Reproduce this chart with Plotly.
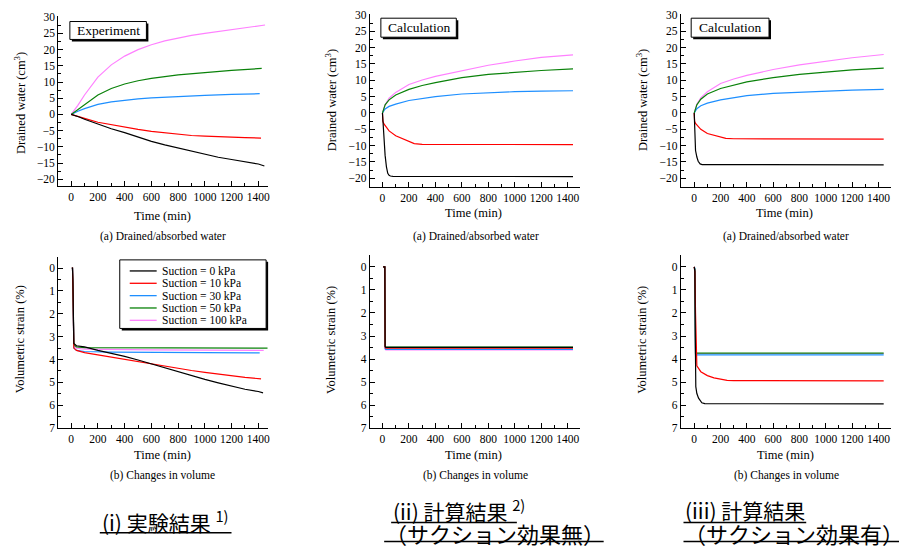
import plotly.graph_objects as go

# ---------------- data ----------------
suction_labels = ["Suction = 0 kPa", "Suction = 10 kPa", "Suction = 30 kPa",
                  "Suction = 50 kPa", "Suction = 100 kPa"]

# (i) Experiment - drained water (cm3)
exp_w_t_0 = [0, 30, 60, 100, 200, 300, 400, 500, 600, 700, 800, 900, 1000, 1100, 1200, 1300, 1400, 1445]
exp_w_v_0 = [0, -0.3, -0.8, -1.5, -3.0, -4.4, -5.6, -7.0, -8.3, -9.4, -10.4, -11.4, -12.4, -13.2, -13.9, -14.6, -15.3, -15.9]
exp_w_t_10 = [0, 30, 60, 100, 200, 300, 400, 500, 600, 700, 800, 900, 1000, 1100, 1200, 1300, 1420]
exp_w_v_10 = [0, -0.3, -0.7, -1.2, -2.4, -3.2, -3.9, -4.6, -5.2, -5.7, -6.1, -6.5, -6.7, -6.9, -7.0, -7.15, -7.3]
exp_w_t_30 = [0, 20, 50, 100, 200, 300, 400, 500, 600, 800, 1000, 1200, 1410]
exp_w_v_30 = [0, 0.5, 1.0, 1.8, 3.1, 3.9, 4.45, 4.8, 5.1, 5.6, 5.9, 6.2, 6.4]
exp_w_t_50 = [0, 20, 50, 100, 200, 300, 400, 500, 600, 800, 1000, 1200, 1425]
exp_w_v_50 = [0, 0.6, 1.5, 3.0, 6.0, 8.0, 9.4, 10.4, 11.1, 12.2, 13.0, 13.6, 14.2]
exp_w_t_100 = [0, 20, 50, 100, 200, 300, 400, 500, 600, 700, 800, 900, 1000, 1100, 1200, 1300, 1400, 1450]
exp_w_v_100 = [0, 1.0, 2.8, 6.0, 11.5, 15.3, 18.0, 20.0, 21.5, 22.7, 23.6, 24.4, 25.0, 25.6, 26.2, 26.8, 27.3, 27.6]

# (ii) Calculation without suction effect - drained water (cm3)
c1_w_t_0 = [0, 5, 10, 20, 30, 40, 50, 60, 80, 1440]
c1_w_v_0 = [0, -4, -8, -13, -16.5, -18.5, -19.1, -19.3, -19.4, -19.5]
c1_w_t_10 = [0, 3, 10, 20, 50, 100, 150, 200, 240, 300, 1440]
c1_w_v_10 = [0, -2.5, -3.3, -3.8, -5.5, -7.0, -7.9, -8.8, -9.4, -9.6, -9.7]
c1_w_t = [0, 10, 20, 50, 100, 200, 300, 400, 600, 800, 1000, 1200, 1440]
c1_w_v_30 = [0, 0.8, 1.2, 2.0, 2.7, 3.8, 4.5, 5.0, 5.8, 6.2, 6.5, 6.7, 6.8]
c1_w_v_50 = [0, 1.5, 2.5, 4.0, 5.5, 7.2, 8.4, 9.3, 10.8, 11.8, 12.5, 13.0, 13.5]
c1_w_v_100 = [0, 1.5, 2.5, 4.5, 6.3, 8.7, 10.1, 11.2, 13.0, 14.6, 15.9, 17.0, 17.8]

# (iii) Calculation with suction effect - drained water (cm3)
c2_w_t_0 = [0, 3, 7, 10, 20, 30, 45, 60, 1440]
c2_w_v_0 = [0, -5, -10.5, -11.5, -13.5, -14.8, -15.6, -15.8, -15.9]
c2_w_t_10 = [0, 3, 10, 20, 50, 100, 150, 200, 240, 300, 1440]
c2_w_v_10 = [0, -2.5, -3.2, -3.6, -5.0, -6.3, -6.9, -7.5, -7.8, -7.9, -8.0]
c2_w_t = [0, 10, 20, 50, 100, 200, 300, 400, 600, 800, 1000, 1200, 1440]
c2_w_v_30 = [0, 0.8, 1.3, 2.2, 3.0, 4.0, 4.7, 5.3, 6.0, 6.4, 6.7, 7.0, 7.2]
c2_w_v_50 = [0, 1.5, 2.5, 4.2, 5.8, 7.5, 8.6, 9.5, 10.8, 11.8, 12.5, 13.2, 13.7]
c2_w_v_100 = [0, 1.6, 2.7, 4.6, 6.5, 9.0, 10.4, 11.5, 13.3, 14.7, 15.8, 16.9, 17.9]

# (i) Experiment - volumetric strain (%)
exp_s_t_0 = [5, 10, 13, 15, 20, 40, 100, 200, 300, 400, 500, 600, 700, 800, 900, 1000, 1100, 1200, 1300, 1400, 1435]
exp_s_v_0 = [0, 0, 0.5, 2.5, 3.3, 3.4, 3.45, 3.6, 3.72, 3.86, 4.02, 4.19, 4.37, 4.55, 4.71, 4.87, 5.02, 5.17, 5.3, 5.4, 5.46]
exp_s_t_10 = [5, 10, 13, 15, 20, 40, 100, 200, 300, 400, 500, 600, 700, 800, 900, 1000, 1100, 1200, 1300, 1420]
exp_s_v_10 = [0, 0, 0.8, 2.8, 3.5, 3.6, 3.7, 3.8, 3.9, 4.0, 4.1, 4.2, 4.3, 4.4, 4.48, 4.56, 4.64, 4.72, 4.78, 4.85]
exp_s_t_30 = [5, 10, 13, 15, 20, 40, 100, 300, 600, 1000, 1410]
exp_s_v_30 = [0, 0, 0.8, 2.8, 3.5, 3.6, 3.65, 3.68, 3.7, 3.7, 3.71]
exp_s_t_50 = [5, 10, 13, 15, 20, 40, 100, 1470]
exp_s_v_50 = [0, 0, 0.7, 2.6, 3.35, 3.45, 3.48, 3.5]
exp_s_t_100 = [5, 10, 13, 15, 20, 40, 100, 600, 1440]
exp_s_v_100 = [0, 0, 0.7, 2.6, 3.4, 3.5, 3.55, 3.58, 3.6]

# (ii) Calculation without suction effect - volumetric strain (%)
c1_s_t = [5, 18, 20, 25, 1440]
c1_s_v_0 = [0, 0, 3.45, 3.49, 3.49]
c1_s_v_10 = [0, 0, 3.5, 3.53, 3.53]
c1_s_v_30 = [0, 0, 3.55, 3.58, 3.58]
c1_s_v_50 = [0, 0, 3.45, 3.48, 3.48]
c1_s_v_100 = [0, 0, 3.57, 3.6, 3.6]

# (iii) Calculation with suction effect - volumetric strain (%)
c2_s_t_0 = [0, 5, 8, 12, 20, 33, 58, 80, 1440]
c2_s_v_0 = [0, 0.2, 3.0, 5.2, 5.5, 5.7, 5.9, 5.94, 5.95]
c2_s_t_10 = [0, 5, 10, 15, 20, 50, 100, 150, 200, 250, 300, 1440]
c2_s_v_10 = [0, 0.2, 2.0, 4.0, 4.3, 4.55, 4.72, 4.82, 4.88, 4.93, 4.94, 4.95]
c2_s_t = [0, 5, 8, 10, 1440]
c2_s_v_30 = [0, 0.05, 2.5, 3.82, 3.82]
c2_s_v_50 = [0, 0.1, 2.5, 3.74, 3.74]
c2_s_v_100 = [0, 0.1, 2.5, 3.76, 3.76]

x_ticks = [0, 200, 400, 600, 800, 1000, 1200, 1400]
w_ticks = [-20, -15, -10, -5, 0, 5, 10, 15, 20, 25, 30]
s_ticks = [0, 1, 2, 3, 4, 5, 6, 7]

# ---------------- styling ----------------
COLORS = ["#000000", "#ff0000", "#1e8fff", "#0a820a", "#ff80ff"]
SERIF = "Liberation Serif"
CJK = "Noto Sans CJK JP"
# page body has an 8px margin; layout coordinates below are in page pixels
OFF = 8
W, H = 907 - OFF, 549 - OFF


def fx(p):
    return (p - OFF) / W


def fy(p):
    return 1 - (p - OFF) / H


panels = [
    dict(xd=(58.3, 268.3), yd=(11.3, 185), xr=(-97, 1470), yr=(-22.2, 30.3), kind="w",
         data=[(exp_w_t_0, exp_w_v_0), (exp_w_t_10, exp_w_v_10), (exp_w_t_30, exp_w_v_30),
               (exp_w_t_50, exp_w_v_50), (exp_w_t_100, exp_w_v_100)]),
    dict(xd=(370.7, 581.7), yd=(9, 185.7), xr=(-95, 1496), yr=(-22.7, 30.3), kind="w",
         data=[(c1_w_t_0, c1_w_v_0), (c1_w_t_10, c1_w_v_10), (c1_w_t, c1_w_v_30),
               (c1_w_t, c1_w_v_50), (c1_w_t, c1_w_v_100)]),
    dict(xd=(682.3, 893.3), yd=(9, 185.7), xr=(-102, 1498), yr=(-22.7, 30.3), kind="w",
         data=[(c2_w_t_0, c2_w_v_0), (c2_w_t_10, c2_w_v_10), (c2_w_t, c2_w_v_30),
               (c2_w_t, c2_w_v_50), (c2_w_t, c2_w_v_100)]),
    dict(xd=(58.3, 268.3), yd=(256.7, 431.7), xr=(-97, 1470), yr=(7, -0.5), kind="s",
         data=[(exp_s_t_0, exp_s_v_0), (exp_s_t_10, exp_s_v_10), (exp_s_t_30, exp_s_v_30),
               (exp_s_t_50, exp_s_v_50), (exp_s_t_100, exp_s_v_100)]),
    dict(xd=(370.7, 581.7), yd=(255, 431.7), xr=(-95, 1496), yr=(7, -0.52), kind="s",
         data=[(c1_s_t, c1_s_v_0), (c1_s_t, c1_s_v_10), (c1_s_t, c1_s_v_30),
               (c1_s_t, c1_s_v_50), (c1_s_t, c1_s_v_100)]),
    dict(xd=(682.3, 893.3), yd=(255, 431.7), xr=(-102, 1498), yr=(7, -0.52), kind="s",
         data=[(c2_s_t_0, c2_s_v_0), (c2_s_t_10, c2_s_v_10), (c2_s_t, c2_s_v_30),
               (c2_s_t, c2_s_v_50), (c2_s_t, c2_s_v_100)]),
]

fig = go.Figure()
layout = dict(width=W, height=H, margin=dict(l=0, r=0, t=0, b=0),
              paper_bgcolor="white", plot_bgcolor="white", showlegend=False,
              font=dict(family=SERIF, size=11, color="black"))

draw_order = [4, 2, 3, 1, 0]
for i, p in enumerate(panels):
    n = i + 1
    xa = "x" if n == 1 else f"x{n}"
    ya = "y" if n == 1 else f"y{n}"
    for k in draw_order:
        t, v = p["data"][k]
        fig.add_trace(go.Scatter(x=t, y=v, mode="lines", xaxis=xa, yaxis=ya,
                                 line=dict(color=COLORS[k], width=1.2),
                                 name=suction_labels[k], showlegend=False))
    common = dict(showline=True, linecolor="black", linewidth=1, showgrid=False,
                  zeroline=False, ticks="inside", tickcolor="black", tickwidth=1,
                  ticklen=5, ticklabeloverflow="allow",
                  tickfont=dict(family=SERIF, size=11.5, color="black"))
    layout["xaxis" if n == 1 else f"xaxis{n}"] = dict(
        common, domain=[fx(p["xd"][0]), fx(p["xd"][1])], range=list(p["xr"]),
        anchor=ya, tickmode="array", tickvals=x_ticks,
        minor=dict(tickmode="linear", tick0=0, dtick=100, ticks="inside", ticklen=3,
                   tickcolor="black", tickwidth=1))
    if p["kind"] == "w":
        ytv, mdt = w_ticks, 2.5
    else:
        ytv, mdt = s_ticks, 0.5
    layout["yaxis" if n == 1 else f"yaxis{n}"] = dict(
        common, domain=[fy(p["yd"][1]), fy(p["yd"][0])], range=list(p["yr"]),
        anchor=xa, tickmode="array", tickvals=ytv,
        minor=dict(tickmode="linear", tick0=0, dtick=mdt, ticks="inside", ticklen=3,
                   tickcolor="black", tickwidth=1))

annotations = []
shapes = []


def text(x, y, s, size=11, family=SERIF, angle=0, xanchor="center", yanchor="middle"):
    annotations.append(dict(x=fx(x), y=fy(y), xref="paper", yref="paper", text=s,
                            showarrow=False, textangle=angle, xanchor=xanchor,
                            yanchor=yanchor, font=dict(family=family, size=size, color="black")))


for cx, ty in [(162.7, 215), (475, 212), (786.7, 212)]:
    text(cx, ty, "Time (min)", size=12.5)
for cx, ty in [(163, 459.5), (475, 459), (787, 459)]:
    text(cx, ty, "Time (min)", size=12.5)
for cx in [163, 476.7, 788]:
    text(cx, 236, "(a) Drained/absorbed water", size=11.5)
    text(cx, 480, "(b) Changes in volume", size=11.5)
for cx, cy in [(20, 100), (331.7, 97), (643.3, 97)]:
    text(cx, cy, "Drained water (cm<sup>3</sup>)", size=12.5, angle=-90)
for cx, cy in [(20, 341), (331.7, 341.7), (643.3, 341.7)]:
    text(cx, cy, "Volumetric strain (%)", size=12.5, angle=-90)


def shadow_box(x0, y0, x1, y1, off=2):
    shapes.append(dict(type="rect", xref="paper", yref="paper", x0=fx(x0 + off), x1=fx(x1 + off),
                       y0=fy(y1 + off), y1=fy(y0 + off), fillcolor="black",
                       line=dict(width=0)))
    shapes.append(dict(type="rect", xref="paper", yref="paper", x0=fx(x0), x1=fx(x1),
                       y0=fy(y1), y1=fy(y0), fillcolor="white",
                       line=dict(color="black", width=1)))


shadow_box(70, 16.7, 146.7, 35)
text(108.3, 26, "Experiment", size=13.5)
shadow_box(381.7, 13.3, 457.3, 32.7)
text(419.5, 23, "Calculation", size=13.5)
shadow_box(692.7, 13.3, 770.7, 32.7)
text(731.7, 23, "Calculation", size=13.5)

shadow_box(120, 260, 266.7, 330)
leg_y0, leg_dy = 271.3, 12.6
for k in range(5):
    yy = leg_y0 + k * leg_dy
    shapes.append(dict(type="line", xref="paper", yref="paper", x0=fx(130), x1=fx(157),
                       y0=fy(yy), y1=fy(yy), line=dict(color=COLORS[k], width=1.3)))
    text(160, yy, suction_labels[k], size=11.5, xanchor="left")

# Japanese captions
text(100, 527, "(i) 実験結果 <sup>1)</sup>", size=21, family=CJK, xanchor="left")
shapes.append(dict(type="line", xref="paper", yref="paper", x0=fx(100), x1=fx(232),
                   y0=fy(538.5), y1=fy(538.5), line=dict(color="black", width=1.5)))
text(392, 515.5, "(ii) 計算結果 <sup>2)</sup>", size=21, family=CJK, xanchor="left")
shapes.append(dict(type="line", xref="paper", yref="paper", x0=fx(392), x1=fx(518),
                   y0=fy(528), y1=fy(528), line=dict(color="black", width=1.5)))
text(384, 539, "（サクション効果無）", size=22, family=CJK, xanchor="left")
shapes.append(dict(type="line", xref="paper", yref="paper", x0=fx(385), x1=fx(605),
                   y0=fy(547.5), y1=fy(547.5), line=dict(color="black", width=1.5)))
text(685, 515.5, "(iii) 計算結果", size=21, family=CJK, xanchor="left")
shapes.append(dict(type="line", xref="paper", yref="paper", x0=fx(685), x1=fx(808),
                   y0=fy(528), y1=fy(528), line=dict(color="black", width=1.5)))
text(684, 539, "（サクション効果有）", size=22, family=CJK, xanchor="left")
shapes.append(dict(type="line", xref="paper", yref="paper", x0=fx(685), x1=fx(902),
                   y0=fy(547.5), y1=fy(547.5), line=dict(color="black", width=1.5)))

layout["annotations"] = annotations
layout["shapes"] = shapes
fig.update_layout(**layout)
fig.write_html("out.html")
